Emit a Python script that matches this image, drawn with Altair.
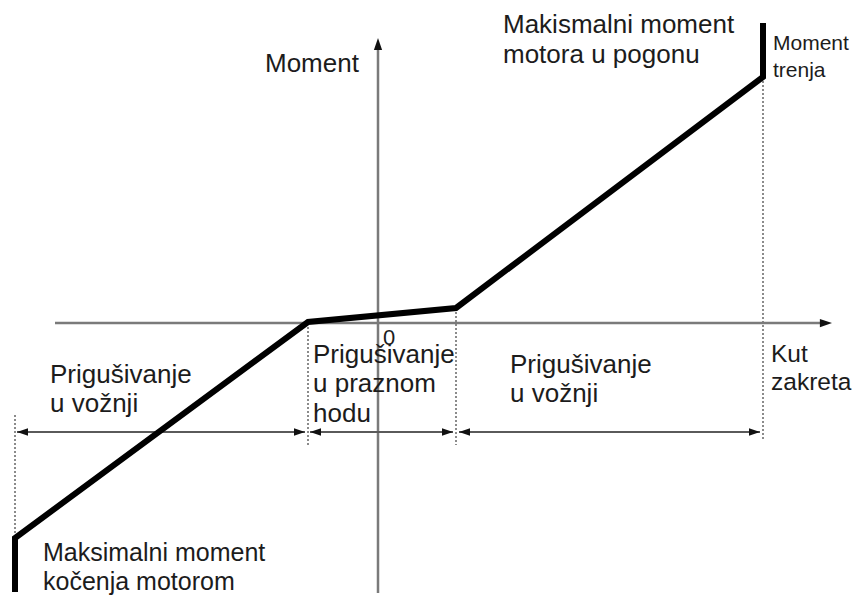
import altair as alt
import pandas as pd

# Coordinates in chart units (angle / torque), origin at axis crossing
curve_x = [-36.3, -36.3, -7.0, 7.8, 38.5, 38.5]
curve_y = [-26.9, -21.5, 0.1, 1.5, 24.6, 30.0]

# axes
h_axis_x = [-32.3, 45.4]
v_axis_y = [-27.0, 28.5]

# dotted vertical guides: x, y_top, y_bottom
guide_x = [-36.3, -7.0, 7.8, 38.5]
guide_top = [-9.2, 0.0, 1.5, 24.6]
guide_bottom = [-21.5, -12.2, -12.2, -11.7]

# dimension arrows
dim_x1 = [-36.1, -6.8, 8.1]
dim_x2 = [-7.3, 7.5, 38.2]
dim_y = -10.9

# labels
label_text = ["Moment", "Makismalni moment", "motora u pogonu",
              "Prigušivanje", "u vožnji",
              "Prigušivanje", "u praznom", "hodu",
              "Prigušivanje", "u vožnji"]
label_x = [-11.3, 12.5, 12.5, -32.8, -32.8, -6.5, -6.5, -6.5,
           13.2, 13.2]
label_y = [25.1, 29.0, 26.0, -6.0, -8.9, -4.0, -6.9, -9.9,
           -5.0, -7.9]

kut_text = ["Kut", "zakreta"]
kut_x = [39.3, 39.3]
kut_y = [-3.9, -6.7]

bottom_text = ["Maksimalni moment", "kočenja motorom"]
bottom_x = [-33.5, -33.5]
bottom_y = [-23.8, -26.7]

small_text = ["Moment", "trenja"]
small_x = [39.5, 39.5]
small_y = [27.3, 24.6]

zero_text = ["0"]
zero_x = [0.5]
zero_y = [-2.2]

W, H = 846, 588
xs = alt.Scale(domain=[-37, 47.6], nice=False, zero=False)
ys = alt.Scale(domain=[-27.3, 31.5], nice=False, zero=False)
X = lambda f: alt.X(f, scale=xs, axis=None)
Y = lambda f: alt.Y(f, scale=ys, axis=None)

AR = "M0,0 L-2.2,-0.75 L-2.2,0.75 Z"
AL = "M0,0 L2.2,-0.75 L2.2,0.75 Z"
AU = "M0,0 L-0.75,2.2 L0.75,2.2 Z"

curve = pd.DataFrame({"x": curve_x, "y": curve_y, "o": range(len(curve_x))})
haxis = pd.DataFrame({"x": [h_axis_x[0]], "x2": [h_axis_x[1] - 0.6], "y": [0.0]})
vaxis = pd.DataFrame({"x": [0.0], "y": [v_axis_y[0]], "y2": [v_axis_y[1] - 0.6]})
guides = pd.DataFrame({"x": guide_x, "y": guide_top, "y2": guide_bottom})
dims = pd.DataFrame({"x": dim_x1, "x2": dim_x2, "y": [dim_y] * 3})
tips_l = pd.DataFrame({"x": dim_x1, "y": [dim_y] * 3})
tips_r = pd.DataFrame({"x": dim_x2, "y": [dim_y] * 3})
htip = pd.DataFrame({"x": [h_axis_x[1]], "y": [0.0]})
vtip = pd.DataFrame({"x": [0.0], "y": [v_axis_y[1]]})
labels = pd.DataFrame({"t": label_text, "x": label_x, "y": label_y})
kuts = pd.DataFrame({"t": kut_text, "x": kut_x, "y": kut_y})
bottoms = pd.DataFrame({"t": bottom_text, "x": bottom_x, "y": bottom_y})
smalls = pd.DataFrame({"t": small_text, "x": small_x, "y": small_y})
zeros = pd.DataFrame({"t": zero_text, "x": zero_x, "y": zero_y})

axis_col = "#7a7a7a"
dim_col = "#5a5a5a"
txt_col = "#1c1c1c"
font = "Liberation Sans"

def text_layer(df, size):
    return alt.Chart(df).mark_text(align="left", baseline="alphabetic", font=font,
                                   fontSize=size, color=txt_col).encode(
        x=X("x:Q"), y=Y("y:Q"), text="t:N")

layers = [
    alt.Chart(guides).mark_rule(color="#666", strokeWidth=1.5, strokeDash=[2, 2]).encode(
        x=X("x:Q"), y=Y("y:Q"), y2="y2:Q"),
    alt.Chart(haxis).mark_rule(color=axis_col, strokeWidth=2.5).encode(
        x=X("x:Q"), x2="x2:Q", y=Y("y:Q")),
    alt.Chart(vaxis).mark_rule(color=axis_col, strokeWidth=2.5).encode(
        x=X("x:Q"), y=Y("y:Q"), y2="y2:Q"),
    alt.Chart(htip).mark_point(shape=AR, filled=True, size=121, color="#111", opacity=1).encode(
        x=X("x:Q"), y=Y("y:Q")),
    alt.Chart(vtip).mark_point(shape=AU, filled=True, size=121, color="#111", opacity=1).encode(
        x=X("x:Q"), y=Y("y:Q")),
    alt.Chart(dims).mark_rule(color=dim_col, strokeWidth=2).encode(
        x=X("x:Q"), x2="x2:Q", y=Y("y:Q")),
    alt.Chart(tips_l).mark_point(shape=AL, filled=True, size=100, color="#111", opacity=1).encode(
        x=X("x:Q"), y=Y("y:Q")),
    alt.Chart(tips_r).mark_point(shape=AR, filled=True, size=100, color="#111", opacity=1).encode(
        x=X("x:Q"), y=Y("y:Q")),
    alt.Chart(curve).mark_line(color="#000", strokeWidth=6, strokeJoin="miter").encode(
        x=X("x:Q"), y=Y("y:Q"), order="o:Q"),
    text_layer(labels, 26),
    text_layer(kuts, 24.5),
    text_layer(bottoms, 25),
    text_layer(smalls, 21),
    text_layer(zeros, 22),
]

chart = alt.layer(*layers).properties(
    width=W, height=H, padding=0,
    autosize=alt.AutoSizeParams(type="none")
).configure_view(strokeWidth=0)

chart.save("out.html", embed_options={"renderer": "svg", "actions": False})
